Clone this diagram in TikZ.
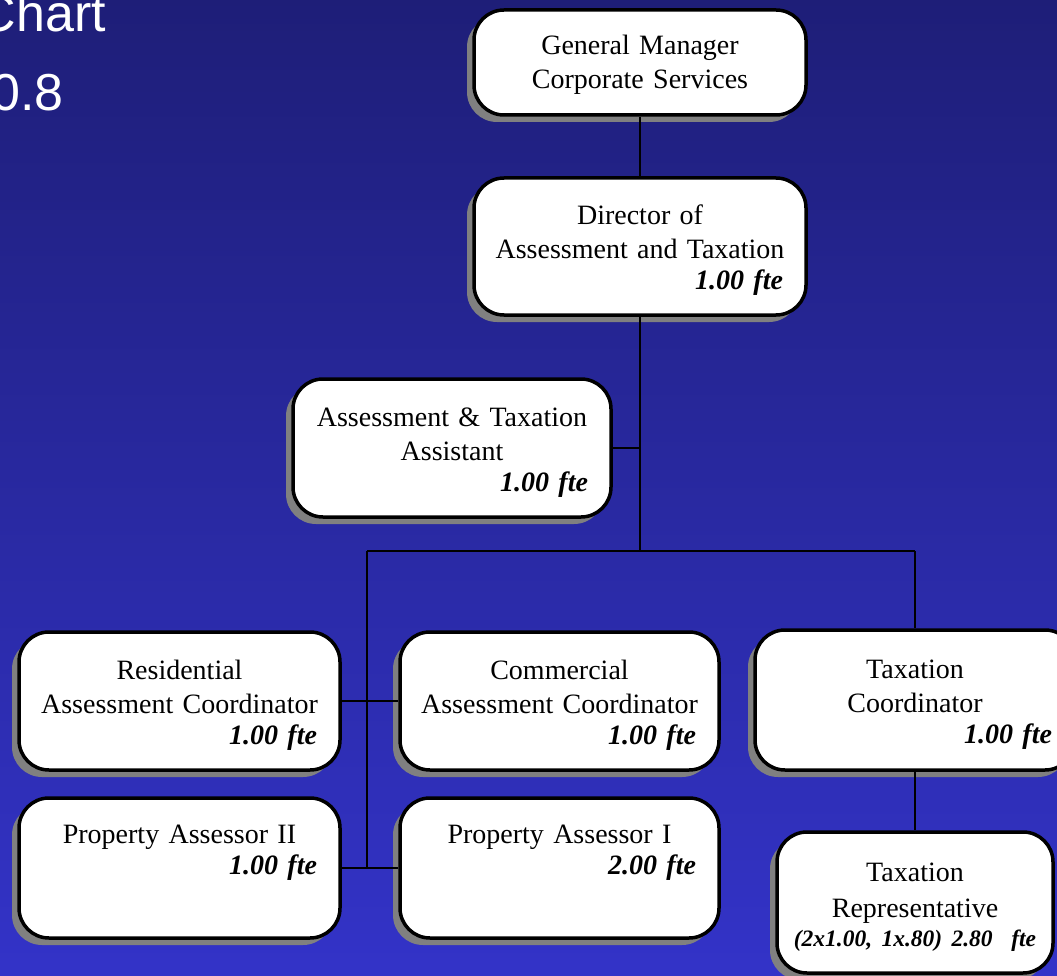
\documentclass[tikz,border=0pt]{standalone}
\usepackage{fontspec}
\setmainfont{Liberation Serif}
\newfontfamily\titlefont{Liberation Sans}
\usetikzlibrary{shadows}
\definecolor{bgtop}{RGB}{30,30,120}
\definecolor{bgbot}{RGB}{51,51,200}
\definecolor{shadowgray}{RGB}{128,128,128}
\tikzset{
  orgbox/.style={draw=black, line width=3.5pt, fill=white, rounded corners=30pt,
    drop shadow={shadow xshift=-7pt, shadow yshift=-7pt, opacity=1, fill=shadowgray},
    align=center, inner xsep=20pt, inner ysep=0pt,
    font=\fontsize{28}{34}\selectfont},
  conn/.style={line width=2pt, draw=black},
  titletext/.style={text=white, font=\titlefont\fontsize{52}{60}\selectfont, inner sep=0pt}
}
\newcommand{\fl}{\rule{0pt}{27pt}}
\newcommand{\fte}[1]{\\[-3pt]\makebox[\hsize][r]{\textbf{\textit{#1}}\hspace{3pt}}}
\begin{document}
\begin{tikzpicture}[x=1pt,y=-1pt]
\useasboundingbox (0,0) rectangle (1057,976);
\clip (0,0) rectangle (1057,976);
\shade[top color=bgtop, bottom color=bgbot] (0,0) rectangle (1057,976);

\node[titletext, anchor=base east] (t1) at (106,32) {Chart};
\node[titletext, anchor=base east] (t2) at (64,111) {0.8};

\node[orgbox, minimum width=332, minimum height=105, text width=292] (gm) at (640,62.5)
  {\rule{0pt}{23pt}General Manager\\Corporate Services};
\node[orgbox, minimum width=332, minimum height=137, text width=292] (dir) at (640,246.5)
  {\fl Director of\\Assessment and Taxation\fte{1.00 fte}};
\node[orgbox, minimum width=318, minimum height=138, text width=278] (asst) at (452,448)
  {\fl Assessment \& Taxation\\Assistant\fte{1.00 fte}};
\node[orgbox, minimum width=321, minimum height=138, text width=281] (res) at (179.5,701)
  {\fl Residential\\Assessment Coordinator\fte{1.00 fte}};
\node[orgbox, minimum width=319, minimum height=138, text width=279] (com) at (559.5,701)
  {\fl Commercial\\Assessment Coordinator\fte{1.00 fte}};
\node[orgbox, minimum width=320, minimum height=140, text width=280] (tc) at (915,700)
  {\fl Taxation\\Coordinator\fte{1.00 fte}};
\node[orgbox, minimum width=321, minimum height=140, text width=281] (pa2) at (179.5,868)
  {\fl Property Assessor II\fte{1.00 fte}\\[12pt]\mbox{}};
\node[orgbox, minimum width=319, minimum height=140, text width=279] (pa1) at (559.5,868)
  {\fl Property Assessor I\fte{2.00 fte}\\[12pt]\mbox{}};
\node[orgbox, minimum width=276, minimum height=141, text width=256, inner xsep=10pt] (tr) at (915,902.5)
  {\fl Taxation\\[2pt]Representative\\[-5pt]{\fontsize{23.5}{28}\selectfont\textbf{\textit{(2x1.00, 1x.80) 2.80\ \ fte}}}};

\coordinate (bus) at (640,551);
\coordinate (busL) at (367,551);
\coordinate (busR) at (tc.north |- bus);
\coordinate (busLend) at (busL |- pa2.east);

\draw[conn] (gm.south) -- (dir.north);
\draw[conn] (dir.south) -- (bus);
\draw[conn] (asst.east) -- (asst.east -| bus);
\draw[conn] (busL) -- (busR);
\draw[conn] (busR) -- (tc.north);
\draw[conn] (busL) -- (busLend);
\draw[conn] (res.east) -- (com.west);
\draw[conn] (pa2.east) -- (pa1.west);
\draw[conn] (tc.south) -- (tr.north);
\end{tikzpicture}
\end{document}
